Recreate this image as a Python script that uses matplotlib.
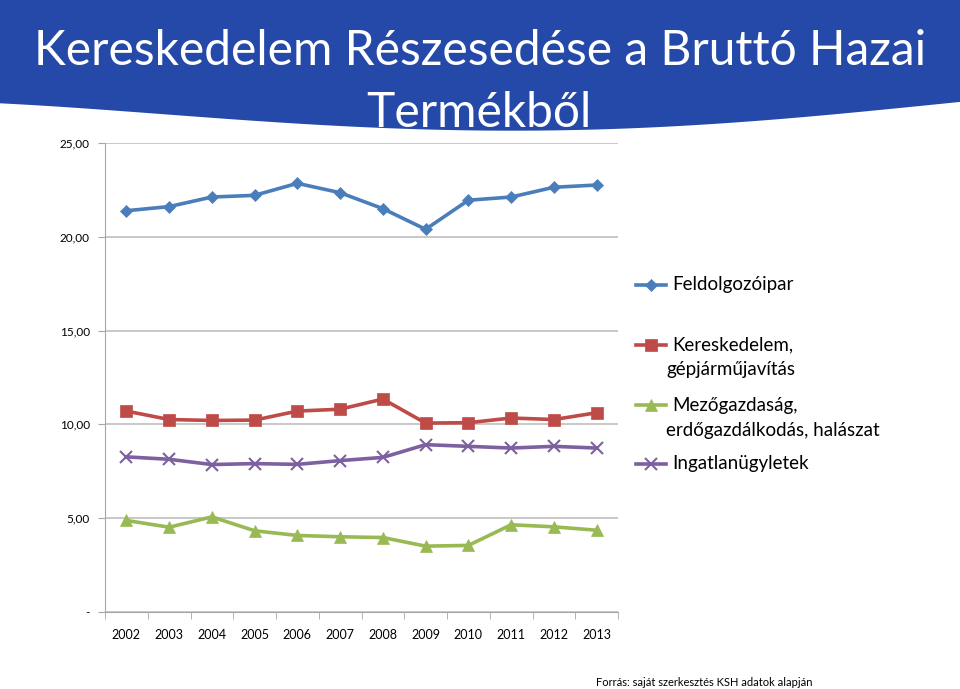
import numpy as np
import matplotlib
matplotlib.use("Agg")
import matplotlib.pyplot as plt
from matplotlib.patches import Polygon
from matplotlib.lines import Line2D

plt.rcParams['font.family'] = ['Lato', 'DejaVu Sans']

years = ['2002', '2003', '2004', '2005', '2006', '2007', '2008', '2009', '2010', '2011', '2012', '2013']
feldolgozoipar = [21.39, 21.61, 22.12, 22.21, 22.85, 22.35, 21.50, 20.40, 21.95, 22.12, 22.64, 22.76]
kereskedelem = [10.71, 10.26, 10.21, 10.23, 10.71, 10.81, 11.35, 10.07, 10.09, 10.34, 10.26, 10.62]
mezogazdasag = [4.88, 4.52, 5.07, 4.33, 4.08, 4.01, 3.97, 3.51, 3.55, 4.65, 4.54, 4.36]
ingatlan = [8.27, 8.14, 7.86, 7.91, 7.87, 8.07, 8.24, 8.92, 8.83, 8.74, 8.83, 8.74]

labels = [['Feldolgozóipar'], ['Kereskedelem,', 'gépjárműjavítás'],
          ['Mezőgazdaság,', 'erdőgazdálkodás, halászat'], ['Ingatlanügyletek']]
colors = ['#4A7EBB', '#BE4B48', '#98B954', '#7D60A0']
markers = ['D', 's', '^', 'x']
msizes = [6, 8, 8, 8]

W, H = 960, 689
fig = plt.figure(figsize=(9.6, 6.89), dpi=100)

# blue header with curved bottom edge
cx = [0, 120, 240, 400, 480, 560, 720, 960]
cy = [103, 112, 119, 128, 131, 131, 123, 102]
coef = np.polyfit(cx, cy, 4)
xs = np.linspace(0, W, 200)
ybot = np.polyval(coef, xs)
pts = [(0, 1)] + [(x / W, 1 - y / H) for x, y in zip(xs, ybot)] + [(1, 1)]
fig.add_artist(Polygon(pts, closed=True, transform=fig.transFigure,
                       facecolor='#2549A8', edgecolor='none', zorder=0))
fig.text(0.5, 1 - 65 / H, 'Kereskedelem Részesedése a Bruttó Hazai', color='white',
         fontsize=34.5, ha='center', va='baseline')
fig.text(479 / W, 1 - 127 / H, 'Termékből', color='white',
         fontsize=34.5, ha='center', va='baseline')

ax = fig.add_axes([105 / W, 1 - 612 / H, 513 / W, 469 / H])
x = np.arange(len(years))
series = [feldolgozoipar, kereskedelem, mezogazdasag, ingatlan]
for vals, c, m, ms in zip(series, colors, markers, msizes):
    ax.plot(x, vals, color=c, lw=2.6, marker=m, ms=ms,
            mew=1.5 if m == 'x' else 0.5, mec=c, mfc=c, zorder=3)

ax.set_xlim(-0.5, len(years) - 0.5)
ax.set_ylim(0, 25)
ax.set_yticks([0, 5, 10, 15, 20, 25])
ax.set_yticklabels(['-', '5,00', '10,00', '15,00', '20,00', '25,00'], fontsize=8.5)
ax.yaxis.grid(True, color='#BFBFBF', lw=1.2)
ax.set_axisbelow(True)
ax.set_xticks(x)
ax.set_xticklabels(years, fontsize=9)
ax.set_xticks(np.arange(-0.5, len(years)), minor=True)
ax.tick_params(axis='x', which='major', length=0, pad=12)
ax.tick_params(axis='x', which='minor', length=5, color='#A6A6A6')
ax.tick_params(axis='y', length=5, color='#A6A6A6', pad=6)
for s in ['top', 'right']:
    ax.spines[s].set_visible(False)
for s in ['left', 'bottom']:
    ax.spines[s].set_color('#A6A6A6')

# legend
leg_y = [285, 345, 405, 464]
for lines, c, m, ms, y in zip(labels, colors, markers, msizes, leg_y):
    yf = 1 - y / H
    fig.add_artist(Line2D([636 / W, 666 / W], [yf, yf], transform=fig.transFigure,
                          color=c, lw=2.6))
    fig.add_artist(Line2D([651 / W], [yf], transform=fig.transFigure, color=c,
                          marker=m, ms=ms, mew=1.5 if m == 'x' else 0.5, mec=c, mfc=c))
    fig.text(672 / W, yf, lines[0], fontsize=13.5, ha='left', va='center')
    if len(lines) > 1:
        fig.text(666 / W, yf - 25 / H, lines[1], fontsize=13.5, ha='left', va='center')

fig.text(596 / W, 1 - 683 / H, 'Forrás: saját szerkesztés KSH adatok alapján',
         fontsize=8, ha='left', va='center')

fig.savefig('out.png', dpi=100)
